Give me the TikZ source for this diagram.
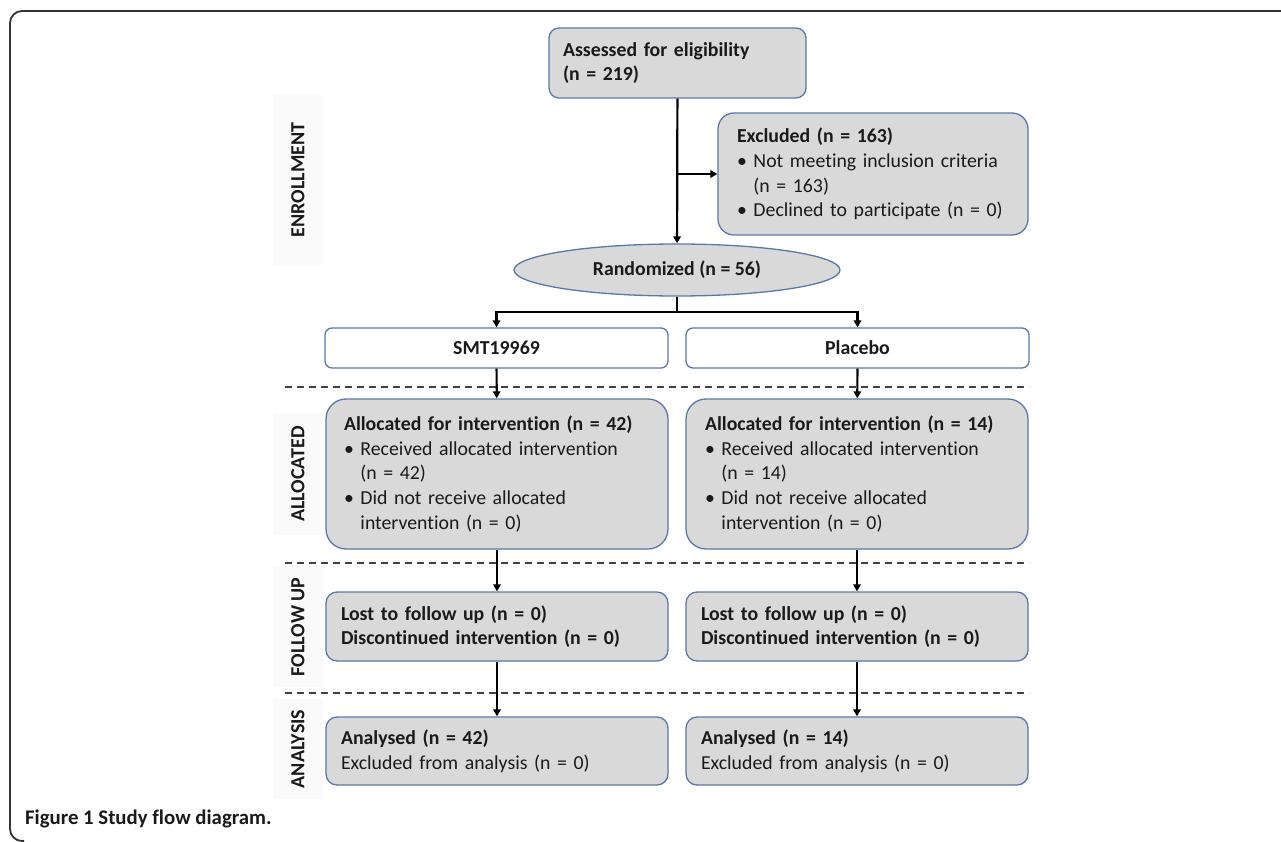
\documentclass[tikz,border=0pt]{standalone}
\usepackage{fontspec}
\setmainfont{Carlito}[Ligatures=NoCommon]
\usetikzlibrary{arrows.meta,shapes.geometric}
\definecolor{boxfill}{HTML}{D9D9D9}
\definecolor{boxline}{HTML}{5A78A8}
\definecolor{txt}{HTML}{1A1A1A}
\newcommand{\bul}{\textbullet\ }
\newcommand{\hang}{\phantom{\textbullet\ }}
\tikzset{
  box/.style={draw=boxline, line width=1.3pt, fill=boxfill, rounded corners=11pt,
    align=left, inner ysep=0pt, text=txt, font=\fontsize{19.8}{24.6}\selectfont},
  armbox/.style={draw=boxline, line width=1.3pt, fill=white, rounded corners=7pt,
    align=center, inner sep=0pt, text=txt, minimum width=343pt, minimum height=40pt,
    font=\fontsize{19.8}{22}\selectfont\bfseries},
  arr/.style={line width=2.2pt, black, -{Triangle[length=7pt,width=7.5pt]}},
  sep/.style={line width=1.1pt, black!75, dash pattern=on 7pt off 5pt},
  phase/.style={rotate=90, fill=black!2, text=txt, inner sep=0pt, minimum height=50pt,
    font=\fontsize{20}{22}\selectfont\bfseries},
}
\begin{document}
\begin{tikzpicture}[x=1pt,y=-1pt]
\useasboundingbox (0,0) rectangle (1281,842);
% frame
\draw[line width=1.8pt, black!80, rounded corners=12pt] (1282,11) -- (10,11) -- (10,841) -- (24,841);

% phase labels
\node[phase, minimum width=170pt] (lenr) at (298,180) {ENROLLMENT};
\node[phase, minimum width=122pt] (lall) at (298,474) {ALLOCATED};
\node[phase, minimum width=120pt] (lfol) at (298,627) {FOLLOW UP};
\node[phase, minimum width=100pt] (lana) at (298,749) {ANALYSIS};

% separators
\draw[sep] (285,387) -- (1029,387);
\draw[sep] (285,563) -- (1029,563);
\draw[sep] (285,693) -- (1029,693);

% enrollment
\node[box, rounded corners=10pt, minimum width=257pt, minimum height=70pt, text width=229pt, inner xsep=14pt] (assess) at (677.5,63)
  {\bfseries Assessed for eligibility\\\bfseries (n = 219)};
\node[box, rounded corners=16pt, minimum width=310pt, minimum height=122pt, text width=272pt, inner xsep=19pt] (excl) at (873,174)
  {\textbf{Excluded (n = 163)}\\
   \bul Not meeting inclusion criteria\\
   \hang(n = 163)\\
   \bul Declined to participate (n = 0)};
\node[draw=boxline, line width=1.3pt, fill=boxfill, ellipse, minimum width=326pt, minimum height=52pt, inner sep=0pt,
  text=txt, font=\fontsize{19.8}{22}\selectfont\bfseries] (rand) at (677,270) {Randomized (n = 56)};

\draw[arr] (assess) -- (rand);
\draw[arr] (assess.south |- excl.west) -- (excl.west);

% arms
\node[armbox] (smt) at (496.5,348) {SMT19969};
\node[armbox] (pla) at (857.5,348) {Placebo};
\draw[arr] (rand.south) -- ++(0,15) -| (smt.north);
\draw[arr] (rand.south) -- ++(0,15) -| (pla.north);

% allocated
\node[box, rounded corners=20pt, minimum width=342pt, minimum height=150pt, text width=306pt, inner xsep=18pt] (alloc1) at (497,474)
  {\textbf{Allocated for intervention (n = 42)}\\
   \bul Received allocated intervention\\
   \hang(n = 42)\\
   \bul Did not receive allocated\\
   \hang intervention (n = 0)};
\node[box, rounded corners=20pt, minimum width=342pt, minimum height=150pt, text width=304pt, inner xsep=19pt] (alloc2) at (857,474)
  {\textbf{Allocated for intervention (n = 14)}\\
   \bul Received allocated intervention\\
   \hang(n = 14)\\
   \bul Did not receive allocated\\
   \hang intervention (n = 0)};
\draw[arr] (smt) -- (alloc1);
\draw[arr] (pla) -- (alloc2);

% follow up
\node[box, minimum width=342pt, minimum height=69pt, text width=312pt, inner xsep=15pt] (fol1) at (497,626.5)
  {\bfseries Lost to follow up (n = 0)\\\bfseries Discontinued intervention (n = 0)};
\node[box, minimum width=342pt, minimum height=69pt, text width=312pt, inner xsep=15pt] (fol2) at (857,626.5)
  {\bfseries Lost to follow up (n = 0)\\\bfseries Discontinued intervention (n = 0)};
\draw[arr] (alloc1) -- (fol1);
\draw[arr] (alloc2) -- (fol2);

% analysis
\node[box, minimum width=342pt, minimum height=68pt, text width=312pt, inner xsep=15pt] (ana1) at (497,751)
  {\textbf{Analysed (n = 42)}\\Excluded from analysis (n = 0)};
\node[box, minimum width=342pt, minimum height=68pt, text width=312pt, inner xsep=15pt] (ana2) at (857,751)
  {\textbf{Analysed (n = 14)}\\Excluded from analysis (n = 0)};
\draw[arr] (fol1) -- (ana1);
\draw[arr] (fol2) -- (ana2);

% caption
\node[anchor=west, inner sep=0pt, text=txt, font=\fontsize{20.8}{24}\selectfont\bfseries] (cap) at (25,819) {Figure 1 Study flow diagram.};
\end{tikzpicture}
\end{document}
